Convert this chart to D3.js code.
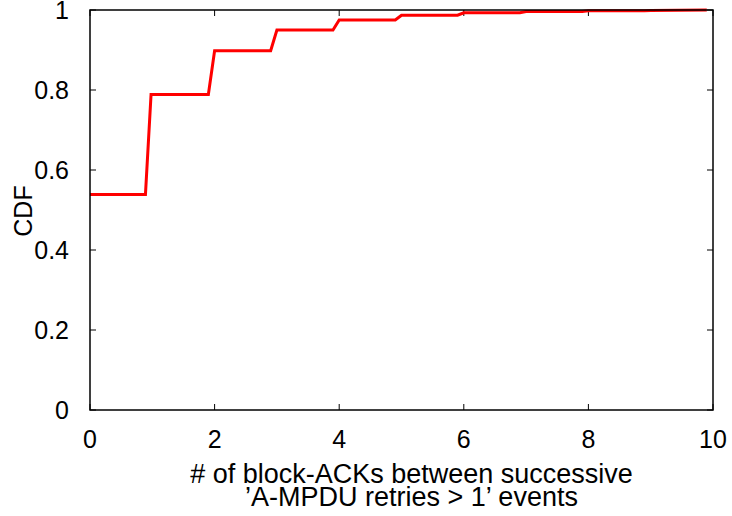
<!DOCTYPE html>
<html>
<head>
<meta charset="utf-8">
<script src="https://cdn.jsdelivr.net/npm/d3@7"></script>
<style>
  body { margin: 0; background: #fff; }
  text { font-family: "Liberation Sans", Arial, sans-serif; fill: #000; }
</style>
</head>
<body>
<div id="chart"></div>
<script>
// step CDF vertices
var xs = [0, 0.89, 0.98, 1.9, 2.0, 2.9, 3.0, 3.9, 4.0, 4.9, 5.0, 5.9, 6.0, 6.9, 7.0, 7.9, 8.0, 8.9, 9.0, 9.9];
var ys = [0.539, 0.539, 0.789, 0.789, 0.898, 0.898, 0.950, 0.950, 0.975, 0.975, 0.987, 0.987, 0.993, 0.993, 0.996, 0.996, 0.998, 0.998, 0.999, 1.0];
var xTicks = [0, 2, 4, 6, 8, 10];
var yTicks = [0, 0.2, 0.4, 0.6, 0.8, 1];
var xLabel = ["# of block-ACKs between successive", "\u2019A-MPDU retries > 1\u2019 events"];
var yLabel = "CDF";

var width = 732, height = 516;
var margin = {left: 90, right: 19, top: 10, bottom: 106};

var svg = d3.select("#chart").append("svg")
  .attr("width", width)
  .attr("height", height);

var x = d3.scaleLinear().domain([0, 10]).range([margin.left, width - margin.right]);
var y = d3.scaleLinear().domain([0, 1]).range([height - margin.bottom, margin.top]);

var fs = 25;
var tickLen = 6;

// ticks, mirrored on all sides and pointing inward
var g = svg.append("g").attr("stroke", "#000").attr("stroke-width", 1);
xTicks.forEach(function(t) {
  g.append("line").attr("x1", x(t)).attr("x2", x(t)).attr("y1", y(0)).attr("y2", y(0) - tickLen);
  g.append("line").attr("x1", x(t)).attr("x2", x(t)).attr("y1", y(1)).attr("y2", y(1) + tickLen);
});
yTicks.forEach(function(t) {
  g.append("line").attr("x1", x(0)).attr("x2", x(0) + tickLen).attr("y1", y(t)).attr("y2", y(t));
  g.append("line").attr("x1", x(10)).attr("x2", x(10) - tickLen).attr("y1", y(t)).attr("y2", y(t));
});

svg.selectAll(".xt").data(xTicks).enter().append("text")
  .attr("class", "xt")
  .attr("x", function(d) { return x(d); })
  .attr("y", y(0) + 38)
  .attr("text-anchor", "middle")
  .style("font-size", fs + "px")
  .text(function(d) { return d; });

svg.selectAll(".yt").data(yTicks).enter().append("text")
  .attr("class", "yt")
  .attr("x", x(0) - 21)
  .attr("y", function(d) { return y(d) + 9; })
  .attr("text-anchor", "end")
  .style("font-size", fs + "px")
  .text(function(d) { return d; });

// CDF curve
var line = d3.line()
  .x(function(d) { return x(d[0]); })
  .y(function(d) { return y(d[1]); });

svg.append("path")
  .datum(d3.zip(xs, ys))
  .attr("fill", "none")
  .attr("stroke", "#ff0000")
  .attr("stroke-width", 3)
  .attr("stroke-linejoin", "miter")
  .attr("d", line);

// border
svg.append("rect")
  .attr("x", x(0)).attr("y", y(1))
  .attr("width", x(10) - x(0)).attr("height", y(0) - y(1))
  .attr("fill", "none").attr("stroke", "#000").attr("stroke-width", 1.5);

svg.selectAll(".xl").data(xLabel).enter().append("text")
  .attr("class", "xl")
  .attr("x", (x(0) + x(10)) / 2 + 10)
  .attr("y", function(d, i) { return 483 + i * 23; })
  .attr("text-anchor", "middle")
  .style("font-size", "27px")
  .text(function(d) { return d; });

svg.append("text")
  .attr("transform", "translate(32," + ((y(0) + y(1)) / 2 + 1) + ") rotate(-90)")
  .attr("text-anchor", "middle")
  .style("font-size", fs + "px")
  .text(yLabel);
</script>
</body>
</html>
